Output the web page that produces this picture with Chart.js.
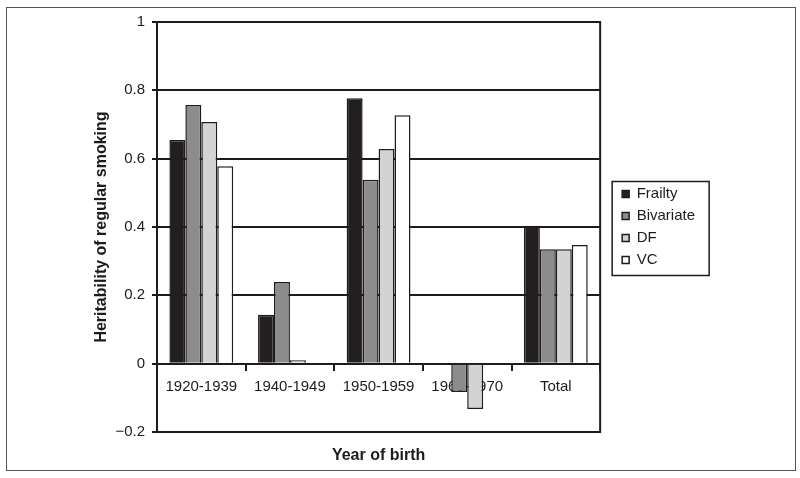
<!DOCTYPE html>
<html>
<head>
<meta charset="utf-8">
<script src="https://cdn.jsdelivr.net/npm/chart.js@4"></script>
<style>
  html, body { margin: 0; padding: 0; background: #fff; }
  #wrap { position: relative; width: 800px; height: 478px; }
</style>
</head>
<body>
<div id="wrap"><canvas id="c" width="800" height="478"></canvas></div>
<script>
// ---- data ----
const categories = ['1920-1939', '1940-1949', '1950-1959', '1960-1970', 'Total'];
const frailty    = [0.655, 0.143, 0.777, 0.0, 0.404];
const bivariate  = [0.757, 0.239, 0.538, -0.083, 0.335];
const df         = [0.707, 0.010, 0.628, -0.133, 0.335];
const vc         = [0.578, 0.0, 0.727, 0.0, 0.347];
const seriesNames = ['Frailty', 'Bivariate', 'DF', 'VC'];
const yTickValues = [-0.2, 0, 0.2, 0.4, 0.6, 0.8, 1];
const yTickLabels = ['\u22120.2', '0', '0.2', '0.4', '0.6', '0.8', '1'];

const FONT = "'Liberation Sans', Arial, Helvetica, sans-serif";
const INK = '#1c1c1c';
const fills = ['#231f20', '#8c8c8e', '#d2d3d5', '#ffffff'];

const framePlugin = {
  id: 'frame',
  beforeDraw(chart) {
    const ctx = chart.ctx;
    ctx.save();
    ctx.fillStyle = '#fff';
    ctx.fillRect(0, 0, chart.width, chart.height);
    ctx.strokeStyle = '#555';
    ctx.lineWidth = 1;
    ctx.strokeRect(6.5, 7.5, 789, 463);
    ctx.restore();
  },
  beforeDatasetsDraw(chart) {
    const a = chart.chartArea, ctx = chart.ctx;
    ctx.save();
    ctx.strokeStyle = INK;
    ctx.lineWidth = 2;
    ctx.strokeRect(a.left, a.top, a.right - a.left, a.bottom - a.top);
    ctx.restore();
  },
  afterDraw(chart) {
    const hb = chart.legend && chart.legend.legendHitBoxes;
    if (!hb || !hb.length) return;
    const ctx = chart.ctx;
    const first = hb[0], last = hb[hb.length - 1];
    const left = first.left - 10;
    const top = first.top - 5;
    const bottom = last.top + last.height + 8;
    const right = left + 97;
    ctx.save();
    ctx.strokeStyle = INK;
    ctx.lineWidth = 1.5;
    ctx.strokeRect(left, top, right - left, bottom - top);
    ctx.restore();
  }
};

const seriesData = [frailty, bivariate, df, vc];

new Chart(document.getElementById('c'), {
  type: 'bar',
  data: {
    labels: categories,
    datasets: seriesNames.map((name, i) => ({
      label: name,
      data: seriesData[i],
      backgroundColor: fills[i],
      borderColor: INK,
      borderWidth: 1.5,
      xAxisID: 'x',
      yAxisID: 'y',
      categoryPercentage: 0.72,
      barPercentage: 1.0
    }))
  },
  options: {
    responsive: false,
    animation: false,
    devicePixelRatio: 1,
    layout: { padding: { left: 82, top: 22, right: 95, bottom: 8 } },
    plugins: {
      legend: {
        position: 'right',
        fullSize: false,
        align: 'center',
        labels: {
          boxWidth: 7,
          boxHeight: 7,
          padding: 7,
          color: INK,
          font: { family: FONT, size: 15 }
        }
      },
      tooltip: { enabled: false },
      title: { display: false }
    },
    scales: {
      x: {
        type: 'category',
        position: { y: 0 },
        grid: { display: true, drawOnChartArea: false, drawTicks: true, tickLength: 6, color: INK, lineWidth: 2 },
        border: { display: true, color: INK, width: 2 },
        ticks: { color: INK, font: { family: FONT, size: 15 }, padding: 8, maxRotation: 0, autoSkip: false }
      },
      x2: {
        type: 'category',
        position: 'bottom',
        grid: { display: false },
        border: { display: false },
        ticks: { display: false },
        afterFit: (s) => { s.height = 38; },
        title: { display: true, text: 'Year of birth', color: INK, font: { family: FONT, size: 16, weight: 'bold' }, padding: { top: 13, bottom: 5 } }
      },
      y: {
        type: 'linear',
        position: 'left',
        min: -0.2,
        max: 1,
        afterBuildTicks: (s) => { s.ticks = yTickValues.map(v => ({ value: v })); },
        afterFit: (s) => { s.width = 75; },
        grid: { color: INK, lineWidth: 2, tickLength: 5, drawTicks: true },
        border: { display: true, color: INK, width: 2 },
        ticks: {
          color: INK,
          padding: 7,
          font: { family: FONT, size: 15 },
          callback: (v, i) => yTickLabels[i]
        },
        title: { display: true, text: 'Heritability of regular smoking', color: INK, font: { family: FONT, size: 16, weight: 'bold' }, padding: { top: 10, bottom: 0 } }
      },
      y2: {
        type: 'linear',
        position: 'right',
        grid: { display: false },
        border: { display: false },
        ticks: { display: false },
        afterFit: (s) => { s.width = 15; }
      }
    }
  },
  plugins: [framePlugin]
});
</script>
</body>
</html>
